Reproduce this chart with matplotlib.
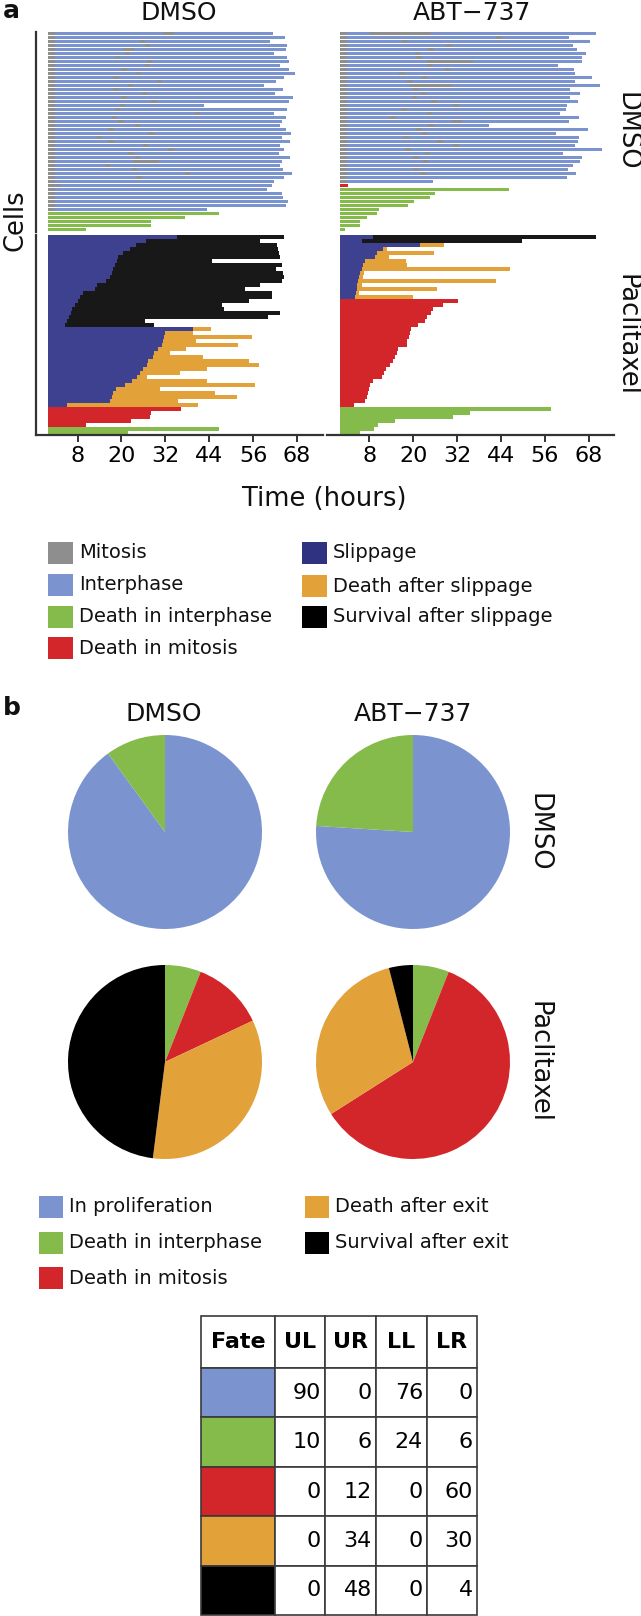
import numpy as np
import matplotlib
matplotlib.use("Agg")
import matplotlib.pyplot as plt
from matplotlib.patches import Rectangle

nan = np.nan

# colours of the cell fates
C_MIT = "#8e8e8e"
C_INT = "#7b94cf"
C_DINT = "#84bb4b"
C_DMIT = "#d3262b"
C_SLIP = "#3e4190"
C_SLIP_KEY = "#2f3181"
C_DSLIP = "#e3a13a"
C_SURV = "#181818"

hour_ticks = [8, 20, 32, 44, 56, 68]
first_mitosis = 1.8

# --- panel a, DMSO / DMSO: end of track (h), fate, second mitosis (h)
tl_end = [61.5, 64.8, 60.7, 65.3, 65.1, 61.7, 65.3, 65.8, 63.3, 65.8,
          67.5, 64.5, 62.2, 59.0, 64.2, 62.0, 66.8, 65.8, 42.5, 65.3,
          61.7, 65.1, 64.0, 63.3, 65.1, 66.4, 64.0, 66.2, 63.5, 64.4,
          63.1, 66.2, 63.8, 63.5, 64.2, 66.6, 64.6, 61.7, 61.3, 59.8,
          64.0, 64.2, 65.7, 65.1, 43.4, 46.6, 37.3, 28.2, 28.2, 10.3]
tl_fate = "I" * 45 + "G" * 5
tl_mit = [31.4, nan, 25.0, 26.4, 20.5, 20.9, 18.2, 26.9, 26.4, 20.0,
          23.9, 17.8, 29.6, 21.8, 17.8, 25.5, 20.0, 28.2, 19.6, 18.2,
          40.1, 17.3, 19.1, 23.7, 16.4, 27.3, 13.2, 16.4, 25.9, 32.8,
          21.9, 23.7, 23.2, 15.5, 22.8, 37.3, 24.1, nan, 2.0, nan,
          nan, nan, nan, nan, nan]
tl_mit_len = {0: 3.0, 4: 3.0, 32: 7.0}

# --- panel a, ABT-737 / DMSO
tr_end = [69.9, 62.7, 68.3, 63.6, 64.8, 67.2, 66.3, 66.1, 59.7, 64.1,
          64.3, 68.9, 64.3, 71.0, 62.8, 65.6, 63.0, 65.0, 62.1, 61.7,
          60.1, 65.4, 62.7, 40.8, 67.9, 59.0, 65.4, 65.2, 64.3, 71.6,
          61.0, 66.3, 65.6, 63.6, 62.3, 64.5, 62.1, 25.5, 2.3, 46.3,
          26.0, 24.6, 20.2, 18.7, 10.7, 10.2, 7.3, 5.6, 5.5, 1.4]
tr_fate = "I" * 38 + "R" + "G" * 11
tr_mit = [8.2, 42.8, 16.9, 29.1, 24.1, 20.5, 20.8, 23.7, 23.7, 28.7,
          16.2, 22.3, 18.2, 19.1, 20.0, 21.9, 19.6, 25.0, 31.0, 16.8,
          23.7, 13.7, 30.5, 24.1, 20.8, 22.3, 17.3, 26.6, 31.0, 17.8,
          23.2, 20.0, 22.6, nan, 20.0, 22.0, nan, nan]
tr_mit_len = {0: 16.8, 7: 12.7, 13: 11.4, 22: 3.0}

# --- panel a, DMSO / Paclitaxel: end of slippage (h), end of track (h)
bl_fate = "K" * 23 + "O" * 20 + "R" * 5 + "G" * 2
bl_slip = [35.1, 26.6, 24.1, 22.3, 20.5, 19.1, 18.7, 18.2, 17.8, 17.3,
           16.8, 15.9, 13.2, 12.8, 9.6, 8.7, 8.2, 7.3, 6.4, 6.1,
           5.7, 5.0, 4.6,
           39.6, 31.9, 31.6, 31.5, 31.2, 30.1, 28.9, 28.7, 27.4, 26.9,
           25.8, 25.0, 24.3, 23.0, 20.9, 18.5, 17.8, 17.3, 16.8, 5.0,
           0, 0, 0, 0, 0, 0, 0]
bl_end = [64.4, 58.0, 62.6, 62.9, 63.1, 63.5, 44.9, 63.8, 62.2, 64.2,
          64.4, 63.8, 58.0, 53.7, 61.3, 61.3, 54.9, 47.6, 48.0, 63.5,
          60.0, 26.4, 28.9,
          44.4, 39.6, 55.6, 40.3, 52.0, 37.6, 33.4, 42.3, 54.9, 57.7,
          43.3, 36.0, 26.9, 43.3, 56.6, 30.5, 45.5, 51.6, 35.5, 41.0,
          36.4, 28.2, 27.8, 22.5, 10.3, 46.6, 21.9]

# --- panel a, ABT-737 / Paclitaxel
br_fate = "K" * 2 + "O" * 14 + "R" * 27 + "G" * 7
br_slip = [8.9, 5.9, 21.9, 11.7, 10.2, 9.6, 6.8, 6.2, 5.9, 5.5,
           5.3, 5.0, 4.7, 4.6, 4.4, 4.1] + [0] * 34
br_end = [70.1, 49.9, 28.4, 12.9, 25.8, 13.5, 18.0, 18.4, 46.4, 6.6,
          6.2, 42.8, 5.9, 26.4, 5.3, 20.0,
          32.4, 28.2, 25.5, 25.0, 23.7, 23.3, 21.4, 19.3, 19.1, 18.9,
          18.4, 18.2, 15.9, 15.5, 15.0, 14.4, 13.8, 12.6, 12.0, 11.4,
          9.1, 8.2, 8.0, 7.7, 7.3, 6.8, 3.8,
          57.8, 35.5, 30.8, 15.0, 10.5, 9.3, 5.5]

# --- panel b: percentages per fate, table columns
fate_rows = ["In proliferation", "Death in interphase", "Death in mitosis",
             "Death after exit", "Survival after exit"]
fate_colors = [C_INT, C_DINT, C_DMIT, C_DSLIP, "#000000"]
table_cols = ["UL", "UR", "LL", "LR"]
pct_ul = [90, 10, 0, 0, 0]
pct_ur = [0, 6, 12, 34, 48]
pct_ll = [76, 24, 0, 0, 0]
pct_lr = [0, 6, 60, 30, 4]

W, H = 641, 1616
plt.rcParams["font.family"] = ["DejaVu Sans"]
fig = plt.figure(figsize=(W / 100, H / 100), dpi=100)
fig.patch.set_facecolor("white")


def add_px_axes(left, top, width, height):
    return fig.add_axes([left / W, 1 - (top + height) / H, width / W, height / H])


BAR_H = 0.78


def draw_interphase(ax, ends, fates, mit, mit_len):
    for i, (end, fate) in enumerate(zip(ends, fates)):
        if fate == "I":
            ax.barh(i, end - first_mitosis, left=first_mitosis, height=BAR_H, color=C_INT, lw=0)
            ax.barh(i, first_mitosis, left=0, height=BAR_H, color=C_MIT, lw=0)
            if not np.isnan(mit[i]):
                ax.barh(i, mit_len.get(i, 1.5), left=mit[i], height=BAR_H, color=C_MIT, lw=0)
        elif fate == "G":
            ax.barh(i, end, left=0, height=BAR_H, color=C_DINT, lw=0)
        else:
            ax.barh(i, end, left=0, height=BAR_H, color=C_DMIT, lw=0)


def draw_slippage(ax, slips, ends, fates):
    after = {"K": C_SURV, "O": C_DSLIP}
    for i, (slip, end, fate) in enumerate(zip(slips, ends, fates)):
        if fate in after:
            ax.barh(i, slip, left=0, height=BAR_H, color=C_SLIP, lw=0)
            ax.barh(i, end - slip, left=slip, height=BAR_H, color=after[fate], lw=0)
        elif fate == "R":
            ax.barh(i, end, left=0, height=BAR_H, color=C_DMIT, lw=0)
        else:
            ax.barh(i, end, left=0, height=BAR_H, color=C_DINT, lw=0)


def style_panel(ax, left_spine, bottom_spine):
    ax.set_xlim(-3.5, 75)
    ax.set_ylim(49.5, -0.5)
    for side in ("top", "right"):
        ax.spines[side].set_visible(False)
    ax.spines["left"].set_visible(left_spine)
    ax.spines["bottom"].set_visible(bottom_spine)
    for side in ("left", "bottom"):
        ax.spines[side].set_linewidth(1.6)
        ax.spines[side].set_color("#333333")
    ax.set_yticks([])
    if bottom_spine:
        ax.set_xticks(hour_ticks)
        ax.tick_params(axis="x", direction="out", length=5, width=1.4,
                       color="#333333", labelsize=16, pad=3)
    else:
        ax.set_xticks([])


col_left = [35.5, 327.2]
row_top = [31.5, 235.0]
ax_tl = add_px_axes(col_left[0], row_top[0], 287, 200)
ax_tr = add_px_axes(col_left[1], row_top[0], 287, 200)
ax_bl = add_px_axes(col_left[0], row_top[1], 287, 200)
ax_br = add_px_axes(col_left[1], row_top[1], 287, 200)

draw_interphase(ax_tl, tl_end, tl_fate, tl_mit, tl_mit_len)
draw_interphase(ax_tr, tr_end, tr_fate, tr_mit, tr_mit_len)
draw_slippage(ax_bl, bl_slip, bl_end, bl_fate)
draw_slippage(ax_br, br_slip, br_end, br_fate)

style_panel(ax_tl, True, False)
style_panel(ax_tr, False, False)
style_panel(ax_bl, True, True)
style_panel(ax_br, False, True)

# --- pies
pie_r = 97
pie_centers = {"UL": (165, 832), "UR": (413, 832), "LL": (165, 1062), "LR": (413, 1062)}
pie_values = {"UL": pct_ul, "UR": pct_ll, "LL": pct_ur, "LR": pct_lr}
for key, (cx, cy) in pie_centers.items():
    pax = add_px_axes(cx - pie_r, cy - pie_r, 2 * pie_r, 2 * pie_r)
    pax.pie(pie_values[key], colors=fate_colors, startangle=90, counterclock=False,
            radius=1, wedgeprops=dict(linewidth=0))
    pax.set_xlim(-1, 1)
    pax.set_ylim(-1, 1)
    pax.axis("off")

# --- table
tab_ax = add_px_axes(201, 1316, 276, 299)
tab_ax.axis("off")
cell_text = [["Fate"] + table_cols]
for r in range(len(fate_rows)):
    cell_text.append([""] + [str(v) for v in (pct_ul[r], pct_ur[r], pct_ll[r], pct_lr[r])])
table = tab_ax.table(cellText=cell_text, cellLoc="right", bbox=[0, 0, 1, 1],
                     colWidths=[74, 50, 51, 51, 50])
table.auto_set_font_size(False)
table.set_fontsize(16)
for (row, col), cell in table.get_celld().items():
    cell.set_edgecolor("#3a3a3a")
    cell.set_linewidth(1.2)
    cell.set_height(52 if row == 0 else 49.4)
    cell.PAD = 0.08
    if row == 0:
        cell.set_text_props(weight="bold", horizontalalignment="center")
        cell._loc = "center"
    elif col == 0:
        cell.set_facecolor(fate_colors[row - 1])

# --- overlay for texts and legends, in pixel coordinates
ov = fig.add_axes([0, 0, 1, 1])
ov.set_xlim(0, W)
ov.set_ylim(H, 0)
ov.axis("off")


def txt(x, y, s, size=18.5, **kw):
    ov.text(x, y, s, fontsize=size, ha=kw.pop("ha", "center"),
            va=kw.pop("va", "center"), color="#111111", **kw)


txt(3, 17.5, "a", size=18, weight="bold", ha="left", va="baseline")
txt(179, 19.5, "DMSO", size=18, va="baseline")
txt(472, 19.5, "ABT\u2212737", size=18, va="baseline")
txt(626, 131, "DMSO", rotation=270)
txt(626, 335, "Paclitaxel", rotation=270)
txt(15, 220, "Cells", rotation=90)
txt(324, 506, "Time (hours)", va="baseline")

legend_a = [("Mitosis", C_MIT, 48, 553), ("Interphase", C_INT, 48, 585),
            ("Death in interphase", C_DINT, 48, 617), ("Death in mitosis", C_DMIT, 48, 648),
            ("Slippage", C_SLIP_KEY, 302, 553), ("Death after slippage", C_DSLIP, 302, 586),
            ("Survival after slippage", "#000000", 302, 617)]
for label, color, x, y in legend_a:
    ov.add_patch(Rectangle((x, y - 11), 25, 22, facecolor=color, edgecolor="none"))
    txt(x + 31, y, label, size=14, ha="left")

txt(3, 715, "b", size=18, weight="bold", ha="left", va="baseline")
txt(164, 721, "DMSO", size=18, va="baseline")
txt(413, 721, "ABT\u2212737", size=18, va="baseline")
txt(538, 832, "DMSO", rotation=270)
txt(538, 1062, "Paclitaxel", rotation=270)

legend_b_pos = [(39, 1207), (39, 1243), (39, 1278), (305, 1207), (305, 1243)]
for label, color, (x, y) in zip(fate_rows, fate_colors, legend_b_pos):
    ov.add_patch(Rectangle((x, y - 11), 24, 22, facecolor=color, edgecolor="none"))
    txt(x + 30, y, label, size=14, ha="left")

fig.savefig("out.png", dpi=100)
